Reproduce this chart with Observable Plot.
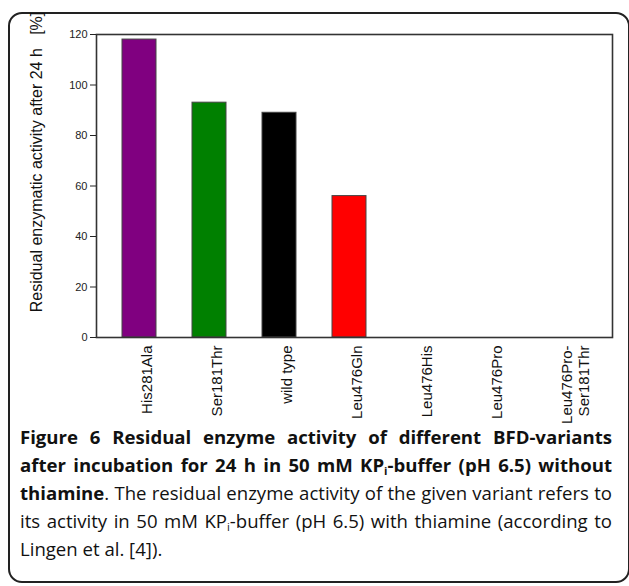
<!DOCTYPE html>
<html>
<head>
<meta charset="utf-8">
<script src="https://cdn.jsdelivr.net/npm/d3@7"></script>
<script src="https://cdn.jsdelivr.net/npm/@observablehq/plot@0.6"></script>
<style>
  html, body { margin: 0; padding: 0; background: #fff; }
  #wrap { position: relative; width: 629px; height: 586px; overflow: hidden; }
  #box { position: absolute; left: 8px; top: 12px; width: 622px; height: 571px;
         border: 2px solid #222; border-radius: 14px; box-sizing: border-box; }
  #chart { position: absolute; left: 0; top: 0; }
  #caption { position: absolute; left: 20px; top: 423px; width: 592px;
             font-family: "Open Sans", "Noto Sans", sans-serif; font-size: 18px; line-height: 28px;
             color: #111; }
  #caption .ln { white-space: nowrap; text-align: justify; text-align-last: justify; }
  #caption .ln.last { text-align-last: left; }
  #caption .ln span { display: inline; }
  #caption b { font-weight: 700; }
  #caption sub { font-size: 0.6em; vertical-align: -0.3em; line-height: 0; }
</style>
</head>
<body>
<div id="wrap">
  <div id="box"></div>
  <div id="chart"></div>
  <div id="caption">
    <div class="ln"><b>Figure 6 Residual enzyme activity of different BFD-variants</b></div>
    <div class="ln"><b>after incubation for 24 h in 50 mM KP<sub>i</sub>-buffer (pH 6.5) without</b></div>
    <div class="ln"><b>thiamine</b>. The residual enzyme activity of the given variant refers to</div>
    <div class="ln">its activity in 50 mM KP<sub>i</sub>-buffer (pH 6.5) with thiamine (according to</div>
    <div class="ln last">Lingen et al. [4]).</div>
  </div>
</div>
<script>
const variants = ["His281Ala", "Ser181Thr", "wild type", "Leu476Gln", "Leu476His", "Leu476Pro", "Leu476Pro-\nSer181Thr"];
const activity = [118, 93, 89, 56, 0, 0, 0];
const barColors = ["#800080", "#008000", "#000000", "#ff0000", "#888888", "#888888", "#888888"];
const yTicks = [0, 20, 40, 60, 80, 100, 120];
const yLabel = "Residual enzymatic activity after 24 h\u00a0\u00a0\u00a0[%]";

const data = variants.map((v, i) => ({variant: v, value: activity[i]}));

const plot = Plot.plot({
  width: 629,
  height: 432,
  marginLeft: 96,
  marginRight: 17,
  marginTop: 34,
  marginBottom: 95,
  style: {fontFamily: "Liberation Sans, Arial, sans-serif", background: "transparent"},
  x: {domain: variants, range: [120, 577.5], paddingInner: 0.51, paddingOuter: 0, axis: null},
  y: {domain: [0, 120], axis: null},
  color: {domain: variants, range: barColors},
  marks: [
    Plot.barY(data.filter(d => d.value > 0), {x: "variant", y: "value", fill: "variant", stroke: "#444", strokeWidth: 1}),
    Plot.frame({stroke: "#333", strokeWidth: 1.6}),
    Plot.axisY({ticks: yTicks, tickSize: 6, tickPadding: 3, fontSize: 11, color: "#222", label: null}),
    Plot.axisX({tickSize: 0, tickPadding: 8, rotate: -90, textAnchor: "end", fontSize: 15, color: "#111", label: null, lineHeight: 1.15}),
    Plot.text([yLabel], {frameAnchor: "left", text: d => d, rotate: -90, textAnchor: "middle", dx: -60, dy: -24, fontSize: 16, fill: "#111"})
  ]
});
document.getElementById("chart").appendChild(plot);

// Fit caption font so the longest line fits the column width
(function fitCaption() {
  const cap = document.getElementById("caption");
  const lines = Array.from(cap.querySelectorAll(".ln"));
  const probe = document.createElement("span");
  probe.style.cssText = "position:absolute;visibility:hidden;white-space:nowrap;";
  cap.appendChild(probe);
  let maxW = 0;
  for (const ln of lines) {
    probe.innerHTML = ln.innerHTML;
    maxW = Math.max(maxW, probe.getBoundingClientRect().width);
  }
  cap.removeChild(probe);
  const base = parseFloat(getComputedStyle(cap).fontSize);
  if (maxW > 0) {
    const size = Math.min(20, base * 588 / maxW);
    cap.style.fontSize = size.toFixed(2) + "px";
  }
})();
</script>
</body>
</html>
